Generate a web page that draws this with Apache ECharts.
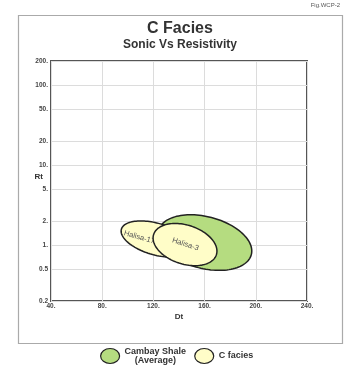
<!DOCTYPE html>
<html>
<head>
<meta charset="utf-8">
<script src="https://cdn.jsdelivr.net/npm/echarts@6/dist/echarts.min.js"></script>
<style>html,body{margin:0;padding:0;background:#fff;}#chart{width:350px;height:370px;}</style>
</head>
<body>
<div id="chart"></div>
<script>
// ---- data ----
const xTicks = [40, 80, 120, 160, 200, 240];
const xTickLabels = ['40.', '80.', '120.', '160.', '200.', '240.'];
const yTicks = [0.2, 0.5, 1, 2, 5, 10, 20, 50, 100, 200];
const yTickLabels = ['0.2', '0.5', '1.', '2.', '5.', '10.', '20.', '50.', '100.', '200.'];

const shaleName = 'Cambay Shale (Average)';
const faciesName = 'C facies';
const ellipseLabels = ['', 'Halisa-17', 'Halisa-3'];
const ellipseGroup = [0, 1, 1];            // 0 = Cambay Shale, 1 = C facies
const majorStartDt = [124.0, 95.0, 120.2];
const majorStartRt = [1.52, 1.58, 1.36];
const majorEndDt = [196.5, 149.1, 169.2];
const majorEndRt = [0.76, 0.894, 0.757];
const minorRatio = [0.54, 0.44, 0.59];
const labelDt = [null, 109, 145];
const labelRt = [null, 1.25, 1.02];

// ---- build ----
const lg = Math.log10;
function groupData(g) {
  const out = [];
  for (let i = 0; i < ellipseGroup.length; i++) {
    if (ellipseGroup[i] !== g) continue;
    out.push({
      value: [majorStartDt[i], lg(majorStartRt[i]), majorEndDt[i], lg(majorEndRt[i]), minorRatio[i],
              labelDt[i] == null ? NaN : labelDt[i], labelRt[i] == null ? NaN : lg(labelRt[i])],
      label: ellipseLabels[i]
    });
  }
  return out;
}

function renderEllipse(params, api) {
  const p1 = api.coord([api.value(0), api.value(1)]);
  const p2 = api.coord([api.value(2), api.value(3)]);
  const cx = (p1[0] + p2[0]) / 2, cy = (p1[1] + p2[1]) / 2;
  const dx = p2[0] - p1[0], dy = p2[1] - p1[1];
  const a = Math.sqrt(dx * dx + dy * dy) / 2;
  const b = a * api.value(4);
  const ang = Math.atan2(dy, dx);
  const ca = Math.cos(ang), sa = Math.sin(ang);
  const pts = [];
  for (let k = 0; k < 120; k++) {
    const t = 2 * Math.PI * k / 120;
    const x = a * Math.cos(t), y = b * Math.sin(t);
    pts.push([cx + x * ca - y * sa, cy + x * sa + y * ca]);
  }
  const children = [{
    type: 'polygon',
    shape: { points: pts },
    style: { fill: api.visual('color'), stroke: '#222', lineWidth: 1.5 }
  }];
  const item = params.dataIndex;
  const series = params.seriesIndex === 0 ? shaleData : faciesData;
  const txt = series[item].label;
  if (txt && !isNaN(api.value(5))) {
    const lp = api.coord([api.value(5), api.value(6)]);
    children.push({
      type: 'text',
      x: lp[0], y: lp[1],
      rotation: -ang,
      style: { text: txt, fontSize: 7.5, fontFamily: 'Liberation Sans, Arial, sans-serif',
               fill: '#555', align: 'center', verticalAlign: 'middle' }
    });
  }
  return { type: 'group', children: children };
}

const shaleData = groupData(0);
const faciesData = groupData(1);
const yTickLog = yTicks.map(lg);

const chart = echarts.init(document.getElementById('chart'), null, { renderer: 'canvas' });
const FONT = 'Liberation Sans, Arial, sans-serif';
chart.setOption({
  animation: false,
  backgroundColor: '#fff',
  title: [
    { text: 'C Facies', left: 180, top: 21, textAlign: 'center', padding: 0,
      textStyle: { fontSize: 16, fontWeight: 'bold', color: '#333', fontFamily: FONT } },
    { text: 'Sonic Vs Resistivity', left: 180, top: 39, textAlign: 'center', padding: 0,
      textStyle: { fontSize: 12, fontWeight: 'bold', color: '#333', fontFamily: FONT } },
    { text: 'Fig.WCP-2', right: 10, top: 2, padding: 0,
      textStyle: { fontSize: 6, fontWeight: 'normal', color: '#555', fontFamily: FONT } }
  ],
  graphic: [{
    type: 'rect', left: 16, top: 13, z: -10,
    shape: { width: 324, height: 328 },
    style: { fill: 'none', stroke: '#aaa', lineWidth: 1.2 }
  }],
  grid: { left: 51, top: 61, right: 43, bottom: 69, show: true,
          borderColor: '#555', borderWidth: 2, backgroundColor: 'transparent' },
  xAxis: {
    type: 'value', min: 40, max: 240,
    name: 'Dt', nameLocation: 'middle', nameGap: 12, nameMoveOverlap: false,
    nameTextStyle: { fontSize: 8, fontWeight: 'bold', color: '#333', fontFamily: FONT },
    axisLine: { show: false }, axisTick: { show: false, customValues: xTicks },
    axisLabel: { customValues: xTicks, margin: 2, fontSize: 6.5, fontWeight: 'bold', color: '#444', fontFamily: FONT,
                 formatter: v => { const i = xTicks.indexOf(v); return i >= 0 ? xTickLabels[i] : ''; } },
    splitLine: { show: true, lineStyle: { color: '#dcdcdc', width: 1 } }
  },
  yAxis: {
    type: 'value', min: lg(yTicks[0]), max: lg(yTicks[yTicks.length - 1]),
    name: 'Rt', nameLocation: 'middle', nameGap: 8, nameRotate: 0, nameMoveOverlap: false,
    nameTextStyle: { fontSize: 8, fontWeight: 'bold', color: '#333', fontFamily: FONT, verticalAlign: 'bottom' },
    axisLine: { show: false }, axisTick: { show: false, customValues: yTickLog },
    axisLabel: { customValues: yTickLog, margin: 3, fontSize: 6.5, fontWeight: 'bold', color: '#444', fontFamily: FONT,
                 showMinLabel: true, showMaxLabel: true,
                 formatter: v => { for (let i = 0; i < yTickLog.length; i++) if (Math.abs(yTickLog[i] - v) < 1e-6) return yTickLabels[i]; return ''; } },
    splitLine: { show: true, lineStyle: { color: '#dcdcdc', width: 1 } }
  },
  legend: {
    left: 100, top: 347, itemWidth: 19, itemHeight: 15, itemGap: 8, padding: 0,
    icon: 'path://M0,50 A50,50 0 1,1 100,50 A50,50 0 1,1 0,50 Z',
    symbolKeepAspect: false,
    itemStyle: { borderColor: '#222', borderWidth: 1.2 },
    data: [shaleName, faciesName],
    formatter: name => name === shaleName ? '{a|Cambay Shale}\n{a|(Average)}' : '{a|C facies}',
    textStyle: { fontSize: 9, fontWeight: 'bold', color: '#333', fontFamily: FONT,
                 rich: { a: { fontSize: 9, fontWeight: 'bold', color: '#333', fontFamily: FONT, lineHeight: 9, align: 'center' } } }
  },
  series: [
    { type: 'custom', name: shaleName, coordinateSystem: 'cartesian2d', renderItem: renderEllipse,
      itemStyle: { color: '#b5dc80', borderColor: '#222' },
      encode: { x: [0, 2], y: [1, 3] }, data: shaleData, clip: true },
    { type: 'custom', name: faciesName, coordinateSystem: 'cartesian2d', renderItem: renderEllipse,
      itemStyle: { color: '#fffdc8', borderColor: '#222' },
      encode: { x: [0, 2], y: [1, 3] }, data: faciesData, clip: true }
  ]
});
</script>
</body>
</html>
